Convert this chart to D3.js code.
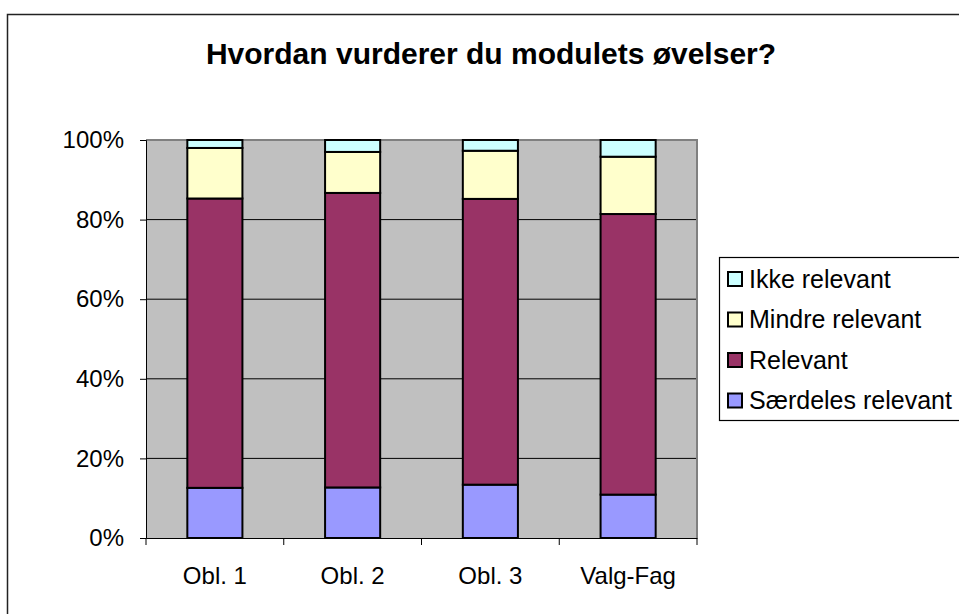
<!DOCTYPE html>
<html><head><meta charset="utf-8">
<script src="https://cdn.jsdelivr.net/npm/d3@7/dist/d3.min.js"></script>
<style>body{margin:0;background:#fff}svg{display:block;font-family:"Liberation Sans",Arial,sans-serif}</style>
</head><body><svg id="c" width="959" height="614"></svg>
<script>
const categories = ["Obl. 1", "Obl. 2", "Obl. 3", "Valg-Fag"];
const seriesNames = ["Særdeles relevant", "Relevant", "Mindre relevant", "Ikke relevant"];
const saerdeles = [12.6, 12.7, 13.4, 10.9];
const relevant = [72.7, 74.0, 71.8, 70.5];
const mindre = [12.7, 10.3, 12.1, 14.4];
const ikke = [2.0, 3.0, 2.7, 4.2];
const yTicks = [0, 20, 40, 60, 80, 100];
const colors = ["#9999ff", "#993366", "#ffffcc", "#ccffff"];
const title = "Hvordan vurderer du modulets øvelser?";

const svg = d3.select("#c");
svg.append("rect").attr("x", 7.5).attr("y", 14.5).attr("width", 1000).attr("height", 700)
  .attr("fill", "#fff").attr("stroke", "#222").attr("stroke-width", 1.5);

const L = 146, R = 697, T = 140, B = 538;
const data = categories.map((c, i) => {
  const vals = [saerdeles[i], relevant[i], mindre[i], ikke[i]];
  const tot = d3.sum(vals);
  const o = {cat: c};
  seriesNames.forEach((s, j) => o[s] = vals[j] / tot * 100);
  return o;
});
const stack = d3.stack().keys(seriesNames)(data);
const x = d3.scaleBand().domain(categories).range([L, R]).paddingInner(0.6).paddingOuter(0.3);
const xb = d3.scaleBand().domain(categories).range([L, R]);
const y = d3.scaleLinear().domain([0, 100]).range([B, T]);

svg.append("rect").attr("x", L).attr("y", T).attr("width", R - L).attr("height", B - T).attr("fill", "#c0c0c0");
svg.append("g").selectAll("line").data(yTicks.filter(t => t > 0 && t < 100)).join("line")
  .attr("x1", L).attr("x2", R).attr("y1", d => y(d)).attr("y2", d => y(d)).attr("stroke", "#000").attr("stroke-width", 1);
svg.append("path").attr("d", `M${L},${T}H${R}V${B}`).attr("fill", "none").attr("stroke", "#808080").attr("stroke-width", 2);

svg.append("g").selectAll("g").data(stack).join("g").attr("fill", (d, i) => colors[i])
  .selectAll("rect").data(d => d).join("rect")
  .attr("x", d => x(d.data.cat)).attr("width", x.bandwidth())
  .attr("y", d => y(d[1])).attr("height", d => y(d[0]) - y(d[1]))
  .attr("stroke", "#000").attr("stroke-width", 2);

const ya = svg.append("g").attr("transform", `translate(${L},0)`)
  .call(d3.axisLeft(y).tickValues(yTicks).tickFormat(d => d + "%").tickSize(6).tickPadding(16));
ya.select(".domain").attr("stroke", "#000");
ya.selectAll("text").attr("font-size", 24).attr("font-family", "Liberation Sans, Arial").attr("fill", "#000");
const xa = svg.append("g").attr("transform", `translate(0,${B})`)
  .call(d3.axisBottom(xb).tickSize(0).tickPadding(29));
xa.select(".domain").attr("stroke", "#000");
xa.selectAll("text").attr("font-size", 24).attr("font-family", "Liberation Sans, Arial").attr("fill", "#000");
xa.selectAll(".tk").data(d3.range(categories.length + 1)).join("line").attr("class", "tk")
  .attr("x1", i => L + i * xb.step()).attr("x2", i => L + i * xb.step()).attr("y1", 0).attr("y2", 7).attr("stroke", "#000");

svg.append("text").attr("x", 491).attr("y", 64).attr("text-anchor", "middle")
  .attr("font-size", 30).attr("font-weight", "bold").text(title);

const lg = svg.append("g");
lg.append("rect").attr("x", 719.5).attr("y", 257.5).attr("width", 260).attr("height", 163)
  .attr("fill", "#fff").attr("stroke", "#000").attr("stroke-width", 1.2);
const order = [3, 2, 1, 0];
const item = lg.selectAll("g").data(order).join("g").attr("transform", (d, i) => `translate(727,${279 + i * 40.5})`);
item.append("rect").attr("x", 1).attr("y", -7).attr("width", 14).attr("height", 14)
  .attr("fill", d => colors[d]).attr("stroke", "#000").attr("stroke-width", 2);
item.append("text").attr("x", 22).attr("y", 8.5).attr("font-size", 25).text(d => seriesNames[d]);
</script></body></html>
